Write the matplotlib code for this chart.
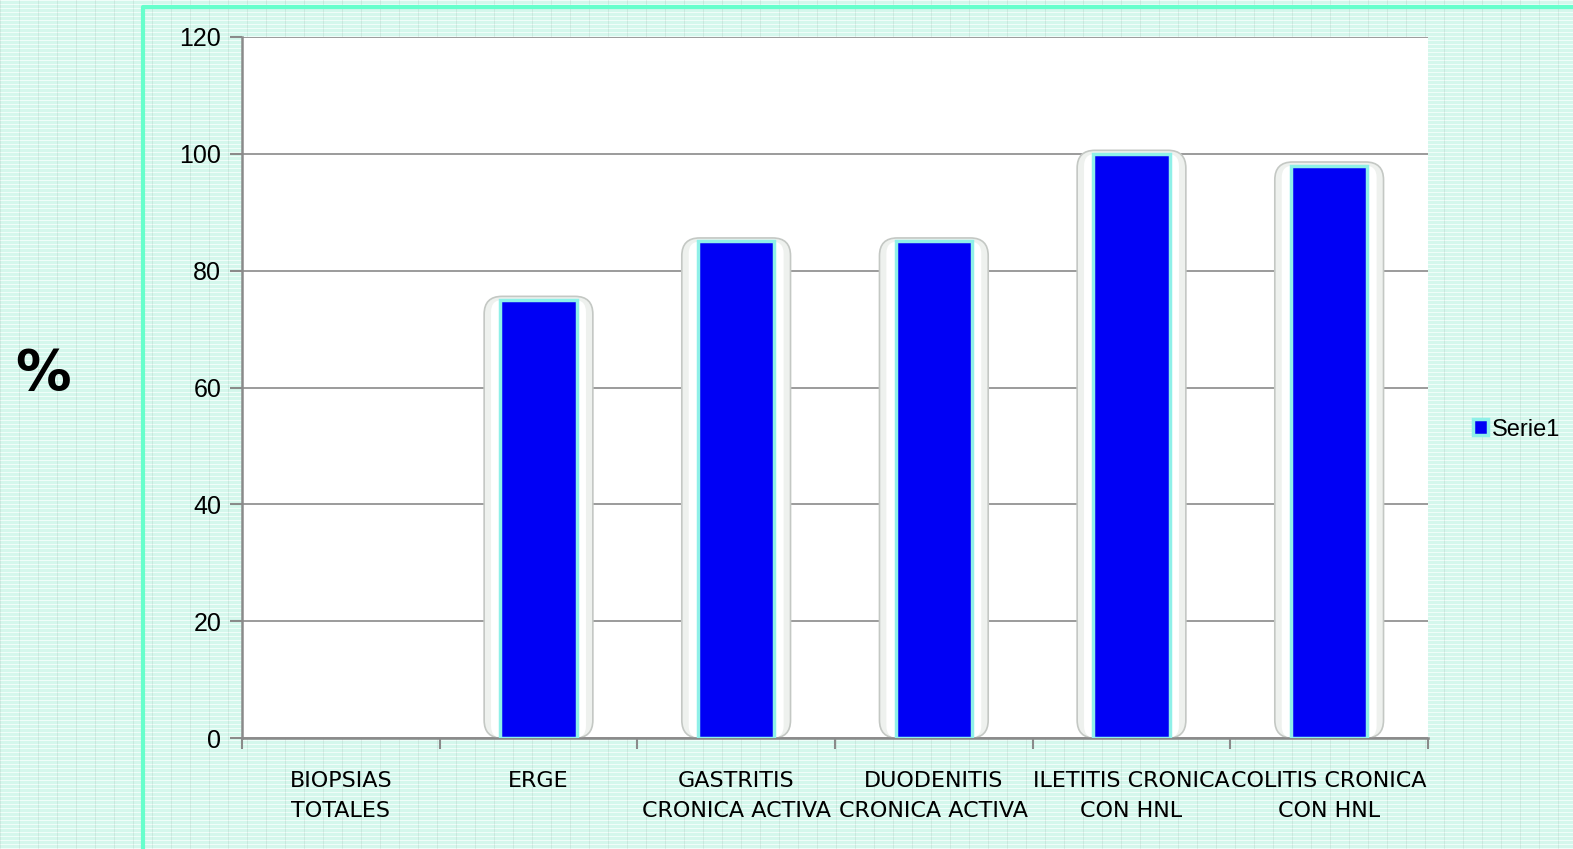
import numpy as np
import matplotlib
matplotlib.use("Agg")
import matplotlib.pyplot as plt
from matplotlib.patches import FancyBboxPatch, Patch
from matplotlib.lines import Line2D

categories = ["BIOPSIAS\nTOTALES", "ERGE", "GASTRITIS\nCRONICA ACTIVA",
              "DUODENITIS\nCRONICA ACTIVA", "ILETITIS CRONICA\nCON HNL",
              "COLITIS CRONICA\nCON HNL"]
serie1 = [0, 75, 85, 85, 100, 98]
y_ticks = [0, 20, 40, 60, 80, 100, 120]
series_name = "Serie1"

BAR_BLUE = "#0000f5"
BAR_EDGE = "#8ff0e8"

W, H = 1573, 849
fig = plt.figure(figsize=(W / 100, H / 100), dpi=100)

# Mint paper texture behind everything
tex = np.ones((H, W, 3)) * np.array([212, 247, 236]) / 255.0
rows = np.arange(H)
cols = np.arange(W)
tex[rows % 4 == 0, :, :] = np.array([240, 253, 249]) / 255.0
tex[:, cols % 19 == 0, :] = tex[:, cols % 19 == 0, :] * 0.94
fig.figimage(tex, 0, 0, zorder=0)

# Aquamarine frame on the left and top
fig.add_artist(Line2D([143 / W, 143 / W, 1.0], [0.0, 1 - 7 / H, 1 - 7 / H],
                      color="#66ffcc", lw=3, transform=fig.transFigure, zorder=1))

ax = fig.add_axes([242 / W, 1 - 738 / H, (1428 - 242) / W, (738 - 37) / H])
ax.set_facecolor("white")
ax.set_zorder(2)

x = np.arange(len(categories))
ax.set_xlim(-0.5, len(categories) - 0.5)
ax.set_ylim(0, 120)

# Horizontal gridlines
ax.set_yticks(y_ticks)
ax.yaxis.grid(True, color="#8a8a8a", lw=1.2)
ax.set_axisbelow(True)

# Rounded halo behind each bar
px_x = (1428 - 242) / len(categories)
px_y = (738 - 37) / 120
aspect = px_x / px_y
glow_w = 0.55
for xi, v in zip(x, serie1):
    if v <= 0:
        continue
    halo = FancyBboxPatch((xi - glow_w / 2, 0), glow_w, v + 0.6,
                          boxstyle="round,pad=0,rounding_size=0.09",
                          mutation_aspect=aspect,
                          facecolor="#eef1ee", edgecolor="#c4c8c4", lw=1.2,
                          zorder=2)
    ax.add_patch(halo)
    inner = FancyBboxPatch((xi - glow_w / 2 + 0.035, 0), glow_w - 0.07, v,
                           boxstyle="round,pad=0,rounding_size=0.06",
                           mutation_aspect=aspect,
                           facecolor="white", edgecolor="none", zorder=2.1)
    ax.add_patch(inner)

ax.bar(x, serie1, width=0.385, color=BAR_BLUE, edgecolor=BAR_EDGE,
       linewidth=[2.5 if v > 0 else 0 for v in serie1], zorder=3)

# Axes styling
for s in ["top", "right"]:
    ax.spines[s].set_visible(False)
for s in ["left", "bottom"]:
    ax.spines[s].set_color("#8a8a8a")
    ax.spines[s].set_linewidth(1.8)

ax.tick_params(axis="y", length=9, width=1.5, color="#8a8a8a", pad=6,
               labelsize=18)
for lab in ax.get_yticklabels():
    lab.set_fontfamily("Liberation Sans")

ax.set_xticks(x)
ax.set_xticklabels(categories, fontsize=16, family="Liberation Sans Narrow",
                   linespacing=1.6)
ax.tick_params(axis="x", which="major", length=0, pad=24)
ax.set_xticks(np.arange(-0.5, len(categories) + 0.5, 1), minor=True)
ax.tick_params(axis="x", which="minor", length=8, width=1.5, color="#8a8a8a")

fig.text(43 / W, 1 - 374 / H, "%", fontsize=40, fontweight="bold",
         family="DejaVu Sans", ha="center", va="center")

handle = Patch(facecolor=BAR_BLUE, edgecolor=BAR_EDGE, linewidth=2.5)
leg = ax.legend([handle], [series_name], loc="center left",
                bbox_to_anchor=(1.03, 0.44), frameon=False,
                prop={"family": "Liberation Sans", "size": 17},
                handlelength=0.65, handleheight=0.65, handletextpad=0.15,
                borderaxespad=0)

fig.savefig("out.png", dpi=100)
